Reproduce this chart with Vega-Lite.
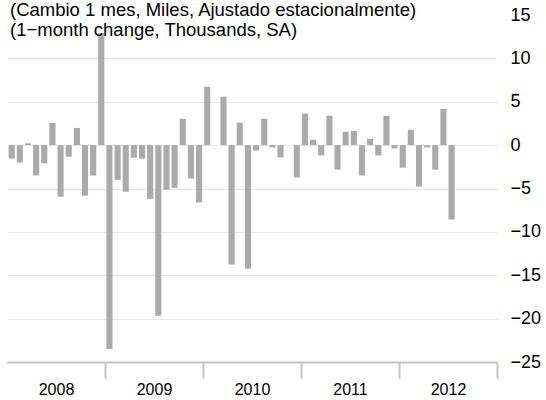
{
  "$schema": "https://vega.github.io/schema/vega-lite/v6.json",
  "width": 490,
  "height": 347,
  "autosize": {"type": "none"},
  "padding": {"left": 7, "top": 15, "right": 49, "bottom": 38},
  "background": "white",
  "title": {
    "text": ["(Cambio 1 mes, Miles, Ajustado estacionalmente)", "(1−month change, Thousands, SA)"],
    "anchor": "start",
    "frame": "group",
    "orient": "top",
    "offset": -33,
    "dx": 3,
    "fontSize": 18.5,
    "font": "Liberation Sans",
    "fontWeight": "normal",
    "color": "#000000",
    "lineHeight": 20
  },
  "config": {"view": {"stroke": null}, "font": "Liberation Sans"},
  "datasets": {
    "monthly": [
      {"month": "2008-01", "year": 2008, "change": -1.55},
      {"month": "2008-02", "year": 2008, "change": -2.0},
      {"month": "2008-03", "year": 2008, "change": 0.2},
      {"month": "2008-04", "year": 2008, "change": -3.5},
      {"month": "2008-05", "year": 2008, "change": -2.1},
      {"month": "2008-06", "year": 2008, "change": 2.55},
      {"month": "2008-07", "year": 2008, "change": -5.95},
      {"month": "2008-08", "year": 2008, "change": -1.33},
      {"month": "2008-09", "year": 2008, "change": 1.98},
      {"month": "2008-10", "year": 2008, "change": -5.83},
      {"month": "2008-11", "year": 2008, "change": -3.5},
      {"month": "2008-12", "year": 2008, "change": 12.9},
      {"month": "2009-01", "year": 2009, "change": -23.5},
      {"month": "2009-02", "year": 2009, "change": -4.0},
      {"month": "2009-03", "year": 2009, "change": -5.37},
      {"month": "2009-04", "year": 2009, "change": -1.45},
      {"month": "2009-05", "year": 2009, "change": -1.56},
      {"month": "2009-06", "year": 2009, "change": -6.2},
      {"month": "2009-07", "year": 2009, "change": -19.68},
      {"month": "2009-08", "year": 2009, "change": -5.12},
      {"month": "2009-09", "year": 2009, "change": -4.92},
      {"month": "2009-10", "year": 2009, "change": 3.04},
      {"month": "2009-11", "year": 2009, "change": -3.85},
      {"month": "2009-12", "year": 2009, "change": -6.6},
      {"month": "2010-01", "year": 2010, "change": 6.73},
      {"month": "2010-02", "year": 2010, "change": 0},
      {"month": "2010-03", "year": 2010, "change": 5.58},
      {"month": "2010-04", "year": 2010, "change": -13.77},
      {"month": "2010-05", "year": 2010, "change": 2.58},
      {"month": "2010-06", "year": 2010, "change": -14.23},
      {"month": "2010-07", "year": 2010, "change": -0.62},
      {"month": "2010-08", "year": 2010, "change": 3.04},
      {"month": "2010-09", "year": 2010, "change": -0.27},
      {"month": "2010-10", "year": 2010, "change": -1.42},
      {"month": "2010-11", "year": 2010, "change": 0},
      {"month": "2010-12", "year": 2010, "change": -3.73},
      {"month": "2011-01", "year": 2011, "change": 3.62},
      {"month": "2011-02", "year": 2011, "change": 0.62},
      {"month": "2011-03", "year": 2011, "change": -1.19},
      {"month": "2011-04", "year": 2011, "change": 3.38},
      {"month": "2011-05", "year": 2011, "change": -2.81},
      {"month": "2011-06", "year": 2011, "change": 1.54},
      {"month": "2011-07", "year": 2011, "change": 1.65},
      {"month": "2011-08", "year": 2011, "change": -3.5},
      {"month": "2011-09", "year": 2011, "change": 0.73},
      {"month": "2011-10", "year": 2011, "change": -1.19},
      {"month": "2011-11", "year": 2011, "change": 3.38},
      {"month": "2011-12", "year": 2011, "change": -0.38},
      {"month": "2012-01", "year": 2012, "change": -2.6},
      {"month": "2012-02", "year": 2012, "change": 1.77},
      {"month": "2012-03", "year": 2012, "change": -4.78},
      {"month": "2012-04", "year": 2012, "change": -0.27},
      {"month": "2012-05", "year": 2012, "change": -2.83},
      {"month": "2012-06", "year": 2012, "change": 4.19},
      {"month": "2012-07", "year": 2012, "change": -8.58}
    ]
  },
  "layer": [
    {
      "data": {"name": "monthly"},
      "mark": {"type": "bar", "color": "#aaaaaa"},
      "encoding": {
        "x": {
          "field": "month",
          "type": "ordinal",
          "sort": null,
          "scale": {
            "domain": ["2008-01","2008-02","2008-03","2008-04","2008-05","2008-06","2008-07","2008-08","2008-09","2008-10","2008-11","2008-12",
                       "2009-01","2009-02","2009-03","2009-04","2009-05","2009-06","2009-07","2009-08","2009-09","2009-10","2009-11","2009-12",
                       "2010-01","2010-02","2010-03","2010-04","2010-05","2010-06","2010-07","2010-08","2010-09","2010-10","2010-11","2010-12",
                       "2011-01","2011-02","2011-03","2011-04","2011-05","2011-06","2011-07","2011-08","2011-09","2011-10","2011-11","2011-12",
                       "2012-01","2012-02","2012-03","2012-04","2012-05","2012-06","2012-07","2012-08","2012-09","2012-10","2012-11","2012-12"],
            "paddingInner": 0.25,
            "paddingOuter": 0.2
          },
          "axis": null
        },
        "y": {
          "field": "change",
          "type": "quantitative",
          "scale": {"domain": [-25, 15], "nice": false, "zero": false},
          "axis": {
            "orient": "right",
            "values": [-25, -20, -15, -10, -5, 0, 5, 10, 15],
            "domain": false,
            "ticks": false,
            "tickSize": 0,
            "labelPadding": 13,
            "labelFontSize": 18,
            "labelFont": "Liberation Sans",
            "labelColor": "#000000",
            "title": null,
            "gridColor": {"condition": {"test": "datum.value === 15", "value": "transparent"}, "value": "#e8e8e8"},
            "gridWidth": 1
          }
        }
      }
    },
    {
      "data": {"name": "monthly"},
      "mark": {"type": "point", "opacity": 0},
      "encoding": {
        "x": {
          "field": "year",
          "type": "quantitative",
          "scale": {"domain": [2008, 2013], "nice": false, "zero": false},
          "axis": {
            "orient": "bottom",
            "values": [2008, 2009, 2010, 2011, 2012, 2013],
            "labelExpr": "datum.value === 2013 ? '' : datum.value",
            "labelOffset": 49,
            "labelFlush": false,
            "labelOverlap": false,
            "labelBound": false,
            "grid": false,
            "domainColor": "#c4c4c4",
            "domainWidth": 2,
            "tickColor": "#c4c4c4",
            "tickWidth": 2,
            "tickSize": 16,
            "tickOpacity": {"condition": {"test": "datum.value === 2008", "value": 0}, "value": 1},
            "labelPadding": 3,
            "labelFontSize": 16,
            "labelFont": "Liberation Sans",
            "labelColor": "#000000",
            "title": null
          }
        }
      }
    },
    {
      "mark": {"type": "rule", "color": "#000000", "strokeWidth": 2},
      "encoding": {"y": {"datum": 0}}
    }
  ],
  "resolve": {"scale": {"x": "independent"}, "axis": {"x": "independent"}}
}
